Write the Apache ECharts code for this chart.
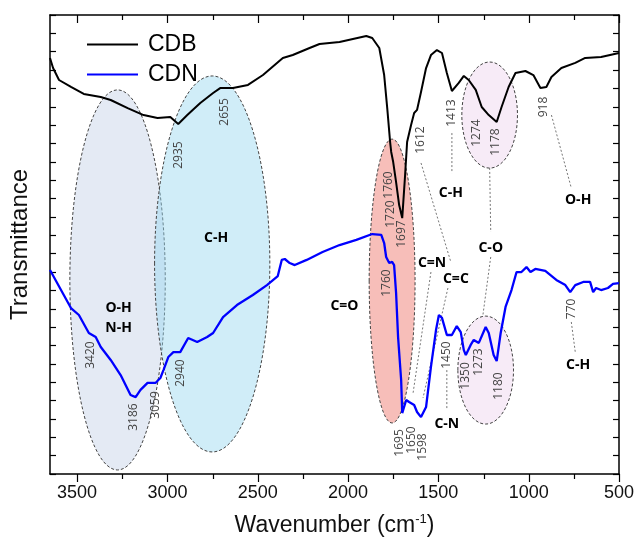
<!DOCTYPE html>
<html><head><meta charset="utf-8">
<script src="https://cdn.jsdelivr.net/npm/echarts@6/dist/echarts.min.js"></script>
<style>html,body{margin:0;padding:0;background:#fff}#c{width:637px;height:548px}</style>
</head><body><div id="c"></div>
<script>
// ---- data ----
const seriesNames = ['CDB', 'CDN'];
const cdbPoints = [[3650,22.66],[3633,22.11],[3600,21.46],[3534,21.08],[3463,20.70],[3369,20.53],[3314,20.37],[3220,19.93],[3132,19.55],[3055,19.39],[2984,19.44],[2940,19.06],[2890,19.55],[2818,20.21],[2747,20.75],[2708,21.02],[2637,21.02],[2554,21.19],[2471,21.73],[2361,22.66],[2306,22.82],[2213,23.20],[2158,23.42],[2047,23.53],[1899,23.86],[1866,23.75],[1827,23.20],[1800,21.73],[1783,19.93],[1767,18.08],[1761,17.54],[1750,16.99],[1734,15.90],[1717,14.65],[1700,13.94],[1684,16.29],[1673,18.08],[1651,19.01],[1634,19.66],[1618,19.83],[1596,20.81],[1568,22.11],[1541,22.82],[1508,23.09],[1480,22.93],[1453,21.84],[1425,20.86],[1387,21.30],[1359,21.68],[1332,21.46],[1293,20.92],[1260,19.99],[1221,19.55],[1177,19.17],[1150,19.99],[1111,21.08],[1073,21.84],[1018,21.95],[974,21.73],[935,21.02],[902,21.08],[874,21.62],[819,22.11],[742,22.39],[687,22.66],[599,22.71],[500,22.93]];
const cdnPoints = [[3650,11.11],[3589,10.02],[3534,9.04],[3490,8.66],[3435,7.68],[3397,7.46],[3369,6.92],[3314,6.21],[3259,5.39],[3204,4.30],[3176,4.19],[3149,4.58],[3110,4.96],[3066,4.96],[3039,5.23],[3022,5.66],[2995,6.37],[2967,6.64],[2929,6.64],[2885,7.41],[2835,7.19],[2780,7.46],[2747,7.68],[2692,8.55],[2615,9.20],[2527,9.75],[2449,10.29],[2389,10.78],[2367,11.66],[2350,11.71],[2323,11.49],[2295,11.38],[2229,11.66],[2141,12.09],[2047,12.47],[1954,12.75],[1866,13.07],[1816,13.02],[1800,12.58],[1789,11.82],[1772,11.49],[1756,11.55],[1745,11.38],[1734,9.86],[1723,7.46],[1706,5.12],[1700,3.32],[1678,4.03],[1662,3.92],[1634,3.76],[1618,3.38],[1596,3.10],[1568,3.65],[1541,5.83],[1513,7.84],[1497,8.66],[1480,8.50],[1453,7.57],[1425,7.57],[1398,8.06],[1376,7.73],[1359,6.75],[1348,6.48],[1321,7.03],[1304,7.30],[1276,7.14],[1238,8.01],[1221,7.68],[1194,6.48],[1177,6.15],[1155,7.68],[1128,9.10],[1095,10.02],[1067,11.00],[1040,11.00],[1012,11.27],[990,11.00],[963,11.17],[908,11.06],[847,10.57],[797,10.29],[770,9.91],[742,10.29],[698,10.46],[660,10.46],[643,9.91],[627,10.13],[599,10.02],[561,10.13],[533,10.35],[500,10.40]];
const xMajorStep = 500;
const xTickValues = [500,750,1000,1250,1500,1750,2000,2250,2500,2750,3000,3250,3500];
// ellipse regions: [centre wavenumber, centre value, half-width (cm-1), half-height]
const ellipseShapes = [[3276,10.57,264,10.35],[2752,11.44,319,10.24],[1756,10.51,127,7.73],[1216,19.55,154,2.89],[1238,5.66,154,2.94]];
const ellipseFills = ['rgba(190,205,228,0.42)','rgba(150,215,240,0.45)','rgba(240,130,120,0.52)','rgba(230,190,230,0.3)','rgba(230,190,230,0.3)'];
// peak number labels: [text, wavenumber, value]
const peakLabels = [['2935',2940,17.37],['2655',2681,19.72],['1760',1778,15.74],['1720',1767,14.16],['1697',1706,13.07],['1612',1596,18.19],['1413',1425,19.66],['1274',1287,18.57],['1178',1183,18.08],['918',919,19.99],['3420',3424,6.48],['3186',3187,3.10],['3059',3066,3.76],['2940',2929,5.50],['1760',1789,10.40],['1695',1717,1.69],['1650',1651,1.85],['1598',1585,1.47],['1450',1453,6.48],['1350',1348,5.34],['1273',1276,6.10],['1180',1166,4.79],['770',764,8.99]];
// bond labels: [text, wavenumber, value]
const bondLabels = [['C-H',1431,15.31],['O-H',726,14.92],['C-O',1210,12.31],['C=N',1535,11.49],['C=C',1403,10.62],['C=O',2020,9.15],['C-N',1453,2.72],['C-H',726,5.94],['O-H',3270,9.04],['N-H',3270,7.95],['C-H',2730,12.85]];
// dotted leader lines: [w1, v1, w2, v2]
const leaderLines = [[1596,16.94,1431,11.55],[1425,18.57,1425,16.39],[1216,16.67,1210,13.18],[1210,11.82,1254,8.61],[874,19.55,764,15.58],[1541,11.00,1640,4.41],[1447,10.13,1585,4.14],[1453,5.66,1453,3.49],[764,8.28,742,6.64]];

const Y_MIN = 0, Y_MAX = 25;
const chart = echarts.init(document.getElementById('c'), null, {renderer: 'canvas'});
const FONT = '"Liberation Sans", Arial, sans-serif';
const AFONT = '"Open Sans", "Noto Sans", sans-serif';

function yAx(pos) {
  return {
    type: 'value', min: Y_MIN, max: Y_MAX, interval: 1, position: pos,
    axisLine: {show: true, onZero: false, lineStyle: {color: '#000', width: 1.5}},
    axisTick: {show: true, inside: true, length: 6, lineStyle: {color: '#000', width: 1.2}},
    axisLabel: {show: false}, splitLine: {show: false}
  };
}

const option = {
  animation: false,
  backgroundColor: '#fff',
  grid: {left: 49, right: 16, top: 15, bottom: 74, containLabel: false},
  legend: {
    orient: 'vertical', left: 82, top: 28, itemWidth: 51, itemHeight: 2.2, itemGap: 7,
    icon: 'rect',
    textStyle: {fontFamily: FONT, fontSize: 23, color: '#000', padding: [0,0,0,5]},
    data: seriesNames
  },
  xAxis: [
    {
      type: 'value', min: 500, max: 3650, inverse: true, position: 'bottom', interval: xMajorStep,
      axisLine: {show: true, onZero: false, lineStyle: {color: '#000', width: 1.5}},
      axisTick: {show: false}, splitLine: {show: false},
      axisLabel: {show: true, fontFamily: FONT, fontSize: 18, color: '#111', margin: 10,
        formatter: function (v) { return (v % xMajorStep === 0) ? String(v) : ''; }},
      name: 'Wavenumber (cm{sup|-1})', nameLocation: 'middle', nameGap: 39,
      nameTextStyle: {fontFamily: FONT, fontSize: 23, color: '#111', rich: {sup: {fontFamily: FONT, fontSize: 13, color: '#111', verticalAlign: 'bottom', padding: [0,0,12,0]}}}
    },
    {
      type: 'value', min: 500, max: 3650, inverse: true, position: 'top', interval: xMajorStep,
      axisLine: {show: true, onZero: false, lineStyle: {color: '#000', width: 1.5}},
      axisTick: {show: false}, axisLabel: {show: false}, splitLine: {show: false}
    }
  ],
  yAxis: [
    Object.assign(yAx('left'), {name: 'Transmittance', nameLocation: 'middle', nameGap: 18,
      nameTextStyle: {fontFamily: FONT, fontSize: 24, color: '#111'}}),
    yAx('right')
  ],
  series: [
    {
      type: 'custom', name: 'regions', z: 1, silent: true, clip: false,
      data: ellipseShapes.map(e => e.slice()),
      encode: {x: 0, y: 1},
      renderItem: function (params, api) {
        const c = api.coord([api.value(0), api.value(1)]);
        const s = api.size([api.value(2), api.value(3)]);
        return {type: 'ellipse', shape: {cx: c[0], cy: c[1], rx: Math.abs(s[0]), ry: Math.abs(s[1])},
          style: {fill: ellipseFills[params.dataIndex], stroke: '#444', lineWidth: 1, lineDash: [3, 2]}};
      }
    },
    {
      // x-axis tick marks (bottom outward, top inward), positioned through the x scale
      type: 'custom', name: 'xticks', z: 8, silent: true, clip: false,
      data: xTickValues.map(v => [v, Y_MIN]),
      encode: {x: 0, y: 1},
      renderItem: function (params, api) {
        const v = api.value(0);
        const len = (v % xMajorStep === 0) ? 8 : 5;
        const b = api.coord([v, Y_MIN]);
        const t = api.coord([v, Y_MAX]);
        const x = Math.round(b[0]) + 0.5;
        return {type: 'group', children: [
          {type: 'line', shape: {x1: x, y1: b[1], x2: x, y2: b[1] + len}, style: {stroke: '#000', lineWidth: 1.2}},
          {type: 'line', shape: {x1: x, y1: t[1], x2: x, y2: t[1] + len}, style: {stroke: '#000', lineWidth: 1.2}}
        ]};
      }
    },
    {
      type: 'custom', name: 'leaders', z: 2, silent: true, clip: false,
      data: leaderLines.map(e => e.slice()),
      encode: {x: [0, 2], y: [1, 3]},
      renderItem: function (params, api) {
        const a = api.coord([api.value(0), api.value(1)]);
        const b = api.coord([api.value(2), api.value(3)]);
        return {type: 'line', shape: {x1: a[0], y1: a[1], x2: b[0], y2: b[1]},
          style: {stroke: '#666', lineWidth: 0.9, lineDash: [2, 2]}};
      }
    },
    {
      name: 'CDB', type: 'line', data: cdbPoints, showSymbol: false, symbol: 'none', z: 5,
      lineStyle: {color: '#000', width: 2}, itemStyle: {color: '#000'}
    },
    {
      name: 'CDN', type: 'line', data: cdnPoints, showSymbol: false, symbol: 'none', z: 5,
      lineStyle: {color: '#0000ff', width: 2.3}, itemStyle: {color: '#0000ff'}
    },
    {
      type: 'custom', name: 'peaks', z: 6, silent: true, clip: false,
      data: peakLabels.map(l => [l[1], l[2]]),
      encode: {x: 0, y: 1},
      renderItem: function (params, api) {
        const c = api.coord([api.value(0), api.value(1)]);
        return {type: 'text', x: c[0], y: c[1], rotation: Math.PI / 2,
          style: {text: peakLabels[params.dataIndex][0], fill: '#444', fontFamily: AFONT, fontSize: 12,
            align: 'center', verticalAlign: 'middle'}};
      }
    },
    {
      type: 'custom', name: 'bonds', z: 6, silent: true, clip: false,
      data: bondLabels.map(l => [l[1], l[2]]),
      encode: {x: 0, y: 1},
      renderItem: function (params, api) {
        const c = api.coord([api.value(0), api.value(1)]);
        return {type: 'text', x: c[0], y: c[1],
          style: {text: bondLabels[params.dataIndex][0], fill: '#000', fontFamily: AFONT, fontSize: 14, fontWeight: 'bold',
            align: 'center', verticalAlign: 'middle'}};
      }
    }
  ]
};
chart.setOption(option);
</script>
</body></html>
